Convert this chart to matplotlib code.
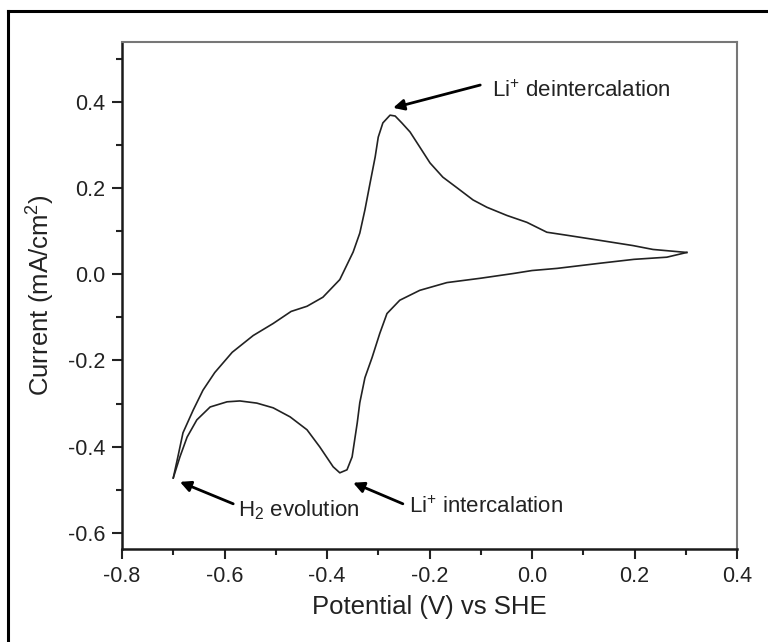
import matplotlib
matplotlib.use("Agg")
import matplotlib.pyplot as plt
from matplotlib.lines import Line2D
from matplotlib.ticker import MultipleLocator

plt.rcParams['font.family'] = ['Liberation Sans', 'DejaVu Sans']
plt.rcParams['mathtext.fontset'] = 'custom'
plt.rcParams['mathtext.rm'] = 'Liberation Sans'
plt.rcParams['mathtext.it'] = 'Liberation Sans:italic'
plt.rcParams['mathtext.bf'] = 'Liberation Sans:bold'

# Anodic sweep (from -0.7 V up to +0.3 V)
anodic_x = [-0.700, -0.691, -0.681, -0.661, -0.642, -0.619, -0.585, -0.544, -0.505, -0.470,
            -0.439, -0.408, -0.375, -0.349, -0.336, -0.326, -0.316, -0.306, -0.300, -0.291,
            -0.277, -0.267, -0.254, -0.238, -0.219, -0.199, -0.174, -0.146, -0.115, -0.088,
            -0.049, -0.010, 0.029, 0.068, 0.133, 0.197, 0.236, 0.302]
anodic_y = [-0.473, -0.424, -0.368, -0.315, -0.269, -0.228, -0.181, -0.142, -0.114, -0.086,
            -0.074, -0.053, -0.012, 0.052, 0.096, 0.150, 0.212, 0.273, 0.319, 0.352,
            0.370, 0.368, 0.352, 0.331, 0.296, 0.259, 0.226, 0.201, 0.173, 0.156,
            0.137, 0.121, 0.098, 0.091, 0.079, 0.067, 0.058, 0.051]

# Cathodic sweep (from +0.3 V back to -0.7 V)
cathodic_x = [0.302, 0.263, 0.199, 0.133, 0.049, 0.000, -0.037, -0.101, -0.166, -0.219,
              -0.258, -0.283, -0.297, -0.312, -0.326, -0.336, -0.341, -0.351, -0.361, -0.375,
              -0.388, -0.414, -0.439, -0.472, -0.505, -0.537, -0.570, -0.595, -0.628, -0.654,
              -0.673, -0.687, -0.700]
cathodic_y = [0.051, 0.040, 0.035, 0.026, 0.014, 0.009, 0.002, -0.009, -0.019, -0.037,
              -0.060, -0.091, -0.137, -0.193, -0.240, -0.298, -0.345, -0.424, -0.454, -0.461,
              -0.447, -0.401, -0.361, -0.331, -0.310, -0.299, -0.294, -0.296, -0.308, -0.338,
              -0.378, -0.424, -0.473]

x_ticks = [-0.8, -0.6, -0.4, -0.2, 0.0, 0.2, 0.4]
y_ticks = [-0.6, -0.4, -0.2, 0.0, 0.2, 0.4]

fig = plt.figure(figsize=(7.68, 6.42), dpi=100)
ax = fig.add_axes([122/768, 1 - 549/642, (737-122)/768, (549-42)/642])

# outer frame (only left and top edges are visible in the picture)
fx, fy = 8/768, 1 - 11/642
fig.lines.append(Line2D([fx, fx], [-0.01, fy], transform=fig.transFigure,
                        color='black', linewidth=2.2, solid_capstyle='projecting'))
fig.lines.append(Line2D([fx, 1.01], [fy, fy], transform=fig.transFigure,
                        color='black', linewidth=2.2, solid_capstyle='projecting'))

ax.plot(anodic_x, anodic_y, color='#222222', linewidth=1.2)
ax.plot(cathodic_x, cathodic_y, color='#222222', linewidth=1.2)

ax.set_xlim(-0.8, 0.4)
ax.set_ylim(-0.638, 0.54)
ax.set_xticks(x_ticks)
ax.set_yticks(y_ticks)
ax.set_xticklabels([f"{v:.1f}" for v in x_ticks])
ax.set_yticklabels([f"{v:.1f}" for v in y_ticks])
ax.xaxis.set_minor_locator(MultipleLocator(0.1))
ax.yaxis.set_minor_locator(MultipleLocator(0.1))
ax.tick_params(which='major', direction='out', length=7, width=1.5, labelsize=15.5,
               colors='#222222', pad=5)
ax.tick_params(which='minor', direction='out', length=4, width=1.5, colors='#222222')
ax.tick_params(top=False, right=False, which='both')

for s in ['left', 'bottom']:
    ax.spines[s].set_linewidth(1.8)
    ax.spines[s].set_color('#1a1a1a')
for s in ['top', 'right']:
    ax.spines[s].set_linewidth(1.5)
    ax.spines[s].set_color('#777777')

ax.set_xlabel('Potential (V) vs SHE', fontsize=18.5, color='#222222', labelpad=6)
ax.set_ylabel('Current (mA/cm$^2$)', fontsize=18.5, color='#222222', labelpad=8)

arrowprops = dict(arrowstyle='-|>', color='black', lw=2.0, mutation_scale=16,
                  shrinkA=0, shrinkB=0)
ax.annotate('', xy=(-0.271, 0.387), xytext=(-0.101, 0.440), arrowprops=arrowprops)
ax.annotate('', xy=(-0.687, -0.482), xytext=(-0.583, -0.533), arrowprops=arrowprops)
ax.annotate('', xy=(-0.349, -0.484), xytext=(-0.252, -0.533), arrowprops=arrowprops)

ax.text(-0.078, 0.412, 'Li$^{+}$ deintercalation', fontsize=16, color='#222222',
        ha='left', va='baseline')
ax.text(-0.574, -0.563, 'H$_2$ evolution', fontsize=16, color='#222222',
        ha='left', va='baseline')
ax.text(-0.240, -0.554, 'Li$^{+}$ intercalation', fontsize=16, color='#222222',
        ha='left', va='baseline')

fig.savefig('out.png', dpi=100)
